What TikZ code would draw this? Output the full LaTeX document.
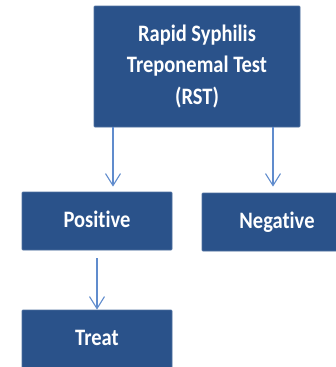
\documentclass[tikz,border=0pt]{standalone}
\usepackage{fontspec}
\setmainfont[Ligatures=NoCommon]{Carlito}
\usepackage{tikz}
\usetikzlibrary{arrows.meta,positioning}
\definecolor{rstBlue}{RGB}{42,82,138}
\definecolor{rstEdge}{RGB}{78,112,160}
\definecolor{rstArrow}{RGB}{96,140,205}
\newcommand{\talltext}[1]{\scalebox{1}[1.15]{\begin{tabular}{@{}c@{}}#1\end{tabular}}}

\begin{document}
\begin{tikzpicture}[x=1pt,y=-1pt,
    box/.style={rectangle, fill=rstBlue, draw=rstEdge, line width=0.8pt,
        rounded corners=1pt, text=white, font=\fontsize{20.5}{27.5}\selectfont\bfseries,
        align=center, inner sep=0pt},
    link/.style={rstArrow, line width=1.1pt, -{Straight Barb[length=12pt,width=15pt]}}]
\useasboundingbox (0,0) rectangle (335,367);
\node[box, minimum width=206pt, minimum height=121pt] (rst) at (197,66.5)
    {\talltext{Rapid Syphilis\\Treponemal Test\\(RST)}};
\node[box, minimum width=150pt, minimum height=58pt] (pos) at (97,221) {\talltext{Positive}};
\node[box, minimum width=150pt, minimum height=58pt] (neg) at (277,222) {\talltext{Negative}};
\node[box, minimum width=150pt, minimum height=58pt] (treat) at (97,339) {\talltext{Treat}};
\draw[link] ([xshift=-84pt]rst.south) -- ([xshift=16pt,yshift=5pt]pos.north);
\draw[link] ([xshift=76pt]rst.south) -- ([xshift=-4pt,yshift=6pt]neg.north);
\draw[link] ([yshift=-8pt]pos.south) -- (treat.north);
\end{tikzpicture}
\end{document}
